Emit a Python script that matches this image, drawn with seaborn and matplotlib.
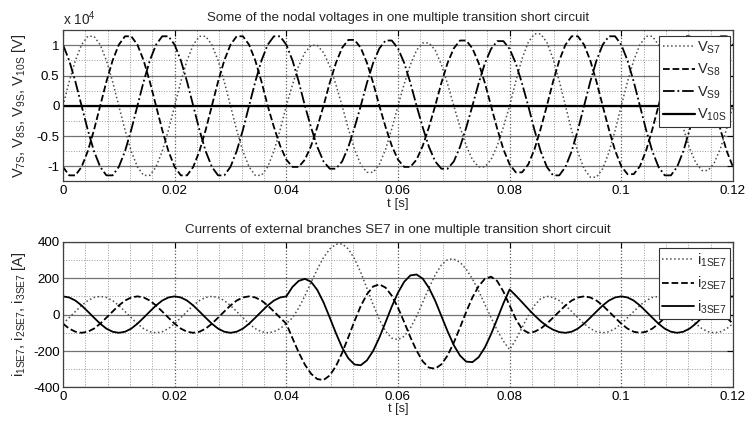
import numpy as np
import matplotlib
matplotlib.use("Agg")
import matplotlib.pyplot as plt
import seaborn as sns
from matplotlib.ticker import FixedLocator, FixedFormatter, MultipleLocator

# ---------------- data ----------------
# sample times: every 1/900 s (20 electrical degrees at 50 Hz)
t_s = np.linspace(0.0, 0.12, 109)

# nodal voltages, units of 1e4 V
v_s7 = [0, .40, .75, 1.01, 1.15, 1.15, 1.01, .75, .40,
        0, -.40, -.75, -1.01, -1.15, -1.15, -1.01, -.75, -.40,
        0, .40, .75, 1.01, 1.15, 1.15, 1.01, .75, .40,
        0, -.40, -.75, -1.01, -1.15, -1.15, -1.01, -.75, -.40,
        0, .35, .66, .88, 1.00, 1.00, .88, .66, .35,
        0, -.38, -.72, -.97, -1.10, -1.10, -.97, -.72, -.38,
        0, .36, .68, .92, 1.04, 1.04, .92, .68, .36,
        0, -.35, -.66, -.89, -1.01, -1.01, -.89, -.66, -.35,
        0, .41, .78, 1.05, 1.19, 1.19, 1.05, .78, .41,
        0, -.41, -.77, -1.04, -1.18, -1.18, -1.04, -.77, -.41,
        0, .40, .75, 1.01, 1.15, 1.15, 1.01, .75, .40,
        0, -.37, -.70, -.94, -1.07, -1.07, -.94, -.70, -.37,
        0]
v_s8 = [-1.01, -1.15, -1.15, -1.01, -.75, -.40,
        0, .40, .75, 1.01, 1.15, 1.15, 1.01, .75, .40,
        0, -.40, -.75, -1.01, -1.15, -1.15, -1.01, -.75, -.40,
        0, .40, .75, 1.01, 1.15, 1.15, 1.01, .75, .40,
        0, -.35, -.66, -.89, -1.01, -1.01, -.89, -.66, -.35,
        0, .38, .71, .96, 1.09, 1.09, .96, .71, .38,
        0, -.35, -.66, -.89, -1.01, -1.01, -.89, -.66, -.35,
        0, .38, .71, .95, 1.08, 1.08, .95, .71, .38,
        0, -.38, -.72, -.97, -1.10, -1.10, -.97, -.72, -.38,
        0, .40, .75, 1.01, 1.15, 1.15, 1.01, .75, .40,
        0, -.39, -.74, -1.00, -1.13, -1.13, -1.00, -.74, -.39,
        0, .40, .75, 1.01, 1.15, 1.15, 1.01, .75, .40,
        0, -.40, -.75, -1.01]
v_s9 = [1.01, .75, .40,
        0, -.40, -.75, -1.01, -1.15, -1.15, -1.01, -.75, -.40,
        0, .40, .75, 1.01, 1.15, 1.15, 1.01, .75, .40,
        0, -.40, -.75, -1.01, -1.15, -1.15, -1.01, -.75, -.40,
        0, .40, .75, 1.01, 1.15, 1.15, 1.01, .75, .40,
        0, -.36, -.68, -.92, -1.04, -1.04, -.92, -.68, -.36,
        0, .38, .71, .95, 1.08, 1.08, .95, .71, .38,
        0, -.36, -.68, -.92, -1.04, -1.04, -.92, -.68, -.36,
        0, .37, .70, .94, 1.07, 1.07, .94, .70, .37,
        0, -.40, -.75, -1.01, -1.15, -1.15, -1.01, -.75, -.40,
        0, .40, .75, 1.01, 1.15, 1.15, 1.01, .75, .40,
        0, -.40, -.75, -1.01, -1.15, -1.15, -1.01, -.75, -.40,
        0, .40, .75, 1.01, 1.15, 1.15, 1.01]
v10s_t = [0.0, 0.12]
v_10s = [0.0, 0.0]

# branch currents, A
i_1se7 = [-50, -17, 17, 50, 77, 94, 100, 94, 77, 50, 17, -17, -50, -77, -94, -100, -94, -77,
          -50, -17, 17, 50, 77, 94, 100, 94, 77, 50, 17, -17, -50, -77, -94, -100, -94, -77,
          -50,
          -17, 36, 103, 177, 249, 313, 360, 386,
          388, 360, 306, 231, 144, 54, -27, -91, -129,
          -138, -119, -74, -9, 68, 147, 218, 272, 302,
          305, 287, 249, 196, 130, 57, -16, -86, -146, -192,
          -137, -71, -6, 50, 87, 100,
          94, 77, 50, 17, -17, -50, -77, -94, -100, -94, -77,
          -50, -17, 17, 50, 77, 94, 100, 94, 77, 50, 17, -17, -50, -77, -94, -100, -94, -77,
          -50]
i_2se7 = [-50, -77, -94, -100, -94, -77, -50, -17, 17, 50, 77, 94, 100, 94, 77, 50, 17, -17,
          -50, -77, -94, -100, -94, -77, -50, -17, 17, 50, 77, 94, 100, 94, 77, 50, 17, -17,
          -50,
          -130, -208, -275, -325, -354,
          -359, -334, -283, -210, -124, -35, 47, 112, 154,
          166, 148, 104, 38, -41, -124, -198, -257, -291,
          -297, -273, -224, -154, -71, 15, 94, 156, 196,
          208, 184, 126, 50, -25, -80,
          -100, -94, -77, -50, -17, 17, 50, 77, 94, 100, 94, 77, 50, 17, -17,
          -50, -77, -94, -100, -94, -77, -50, -17, 17, 50, 77, 94, 100, 94, 77, 50, 17, -17,
          -50]
i_3se7 = [100, 94, 77, 50, 17, -17, -50, -77, -94, -100, -94, -77, -50, -17, 17, 50, 77, 94,
          100, 94, 77, 50, 17, -17, -50, -77, -94, -100, -94, -77, -50, -17, 17, 50, 77, 94,
          100, 152, 185, 196,
          180, 135, 67, -16, -102, -181, -240, -274,
          -278, -251, -199, -126, -42, 44, 120, 180, 215,
          220, 197, 146, 76, -8, -92, -168, -225, -258,
          -261, -234, -181, -108, -24, 62, 138,
          104, 68, 31, -4, -36, -63, -83, -96,
          -100, -94, -77, -50, -17, 17, 50, 77, 94,
          100, 94, 77, 50, 17, -17, -50, -77, -94, -100, -94, -77, -50, -17, 17, 50, 77, 94,
          100]

x_ticks = [0, 0.02, 0.04, 0.06, 0.08, 0.10, 0.12]
x_ticklabels = ["0", "0.02", "0.04", "0.06", "0.08", "0.1", "0.12"]
v_ticks = [-1, -0.5, 0, 0.5, 1]
v_ticklabels = ["-1", "-0.5", "0", "0.5", "1"]
i_ticks = [-400, -200, 0, 200, 400]
i_ticklabels = ["-400", "-200", "0", "200", "400"]

title_top = "Some of the nodal voltages in one multiple transition short circuit"
title_bot = "Currents of external branches SE7 in one multiple transition short circuit"

# ---------------- style ----------------
sns.set_style("white")
plt.rcParams["font.family"] = ["Liberation Sans", "DejaVu Sans"]
plt.rcParams["mathtext.fontset"] = "custom"
plt.rcParams["mathtext.rm"] = "Liberation Sans"
plt.rcParams["mathtext.it"] = "Liberation Sans:italic"
plt.rcParams["mathtext.bf"] = "Liberation Sans:bold"

fig = plt.figure(figsize=(7.48, 4.21), dpi=100)
ax1 = fig.add_axes([0.0842, 0.5691, 0.8957, 0.3591])
ax2 = fig.add_axes([0.0842, 0.0796, 0.8957, 0.3463])

def style_axes(ax, yt, ytl, ylim, minor_y):
    ax.set_xlim(0, 0.12)
    ax.set_ylim(*ylim)
    ax.xaxis.set_major_locator(FixedLocator(x_ticks))
    ax.xaxis.set_major_formatter(FixedFormatter(x_ticklabels))
    ax.xaxis.set_minor_locator(MultipleLocator(0.004))
    ax.yaxis.set_major_locator(FixedLocator(yt))
    ax.yaxis.set_major_formatter(FixedFormatter(ytl))
    ax.yaxis.set_minor_locator(MultipleLocator(minor_y))
    ax.set_axisbelow(True)
    ax.grid(which="major", axis="y", linestyle="-", color="0.45", linewidth=0.9)
    ax.grid(which="major", axis="x", linestyle=":", color="0.35", linewidth=0.9)
    ax.grid(which="minor", axis="both", linestyle=":", color="0.6", linewidth=0.7)
    ax.tick_params(which="major", direction="in", length=4, width=0.8,
                   top=True, right=True, labelsize=9.6, pad=2.5, colors="black")
    ax.tick_params(which="minor", length=0)
    for sp in ax.spines.values():
        sp.set_color("0.25")
        sp.set_linewidth(0.9)

# ---------------- top: voltages ----------------
top_series = [
    (t_s, v_s7, r"V$_{\mathrm{S7}}$", ":", 1.1, "0.3"),
    (t_s, v_s8, r"V$_{\mathrm{S8}}$", "--", 1.3, "black"),
    (t_s, v_s9, r"V$_{\mathrm{S9}}$", "-.", 1.3, "black"),
    (v10s_t, v_10s, r"V$_{\mathrm{10S}}$", "-", 1.6, "black"),
]
h1 = []
for x, y, lab, ls, lw, col in top_series:
    sns.lineplot(x=x, y=y, ax=ax1, color=col, linestyle=ls, linewidth=lw,
                 estimator=None, legend=False)
    ax1.lines[-1].set_label(lab)
    h1.append(ax1.lines[-1])
style_axes(ax1, v_ticks, v_ticklabels, (-1.25, 1.25), 0.25)
ax1.set_title(title_top, fontsize=9.6, pad=7)
ax1.set_xlabel("t [s]", fontsize=9.6, labelpad=1)
ax1.set_ylabel(r"V$_{\mathrm{7S}}$, V$_{\mathrm{8S}}$, V$_{\mathrm{9S}}$, V$_{\mathrm{10S}}$ [V]",
               fontsize=10.5)
ax1.yaxis.set_label_coords(-0.052, 0.5)
ax1.text(0.0, 1.015, r"x 10$^{4}$", transform=ax1.transAxes, fontsize=9.8,
         ha="left", va="bottom")
leg1 = ax1.legend(handles=h1, loc="upper right", bbox_to_anchor=(0.996, 0.965),
                  fontsize=10.5, frameon=True, fancybox=False, framealpha=1,
                  edgecolor="0.2", handlelength=2.2, handletextpad=0.15,
                  borderpad=0.25, labelspacing=0.42, borderaxespad=0)
leg1.get_frame().set_linewidth(0.8)

# ---------------- bottom: currents ----------------
bot_series = [
    (i_1se7, r"i$_{\mathrm{1SE7}}$", ":", 1.1, "0.3"),
    (i_2se7, r"i$_{\mathrm{2SE7}}$", "--", 1.3, "black"),
    (i_3se7, r"i$_{\mathrm{3SE7}}$", "-", 1.3, "black"),
]
h2 = []
for y, lab, ls, lw, col in bot_series:
    sns.lineplot(x=t_s, y=y, ax=ax2, color=col, linestyle=ls, linewidth=lw,
                 estimator=None, legend=False)
    ax2.lines[-1].set_label(lab)
    h2.append(ax2.lines[-1])
style_axes(ax2, i_ticks, i_ticklabels, (-400, 400), 100)
ax2.set_title(title_bot, fontsize=9.6, pad=6)
ax2.set_xlabel("t [s]", fontsize=9.2, labelpad=0)
ax2.set_ylabel(r"i$_{\mathrm{1SE7}}$, i$_{\mathrm{2SE7}}$, i$_{\mathrm{3SE7}}$ [A]", fontsize=10.5)
ax2.yaxis.set_label_coords(-0.052, 0.5)
leg2 = ax2.legend(handles=h2, loc="upper right", bbox_to_anchor=(0.996, 0.96),
                  fontsize=10.5, frameon=True, fancybox=False, framealpha=1,
                  edgecolor="0.2", handlelength=2.2, handletextpad=0.15,
                  borderpad=0.25, labelspacing=0.42, borderaxespad=0)
leg2.get_frame().set_linewidth(0.8)

fig.savefig("out.png", dpi=100)
